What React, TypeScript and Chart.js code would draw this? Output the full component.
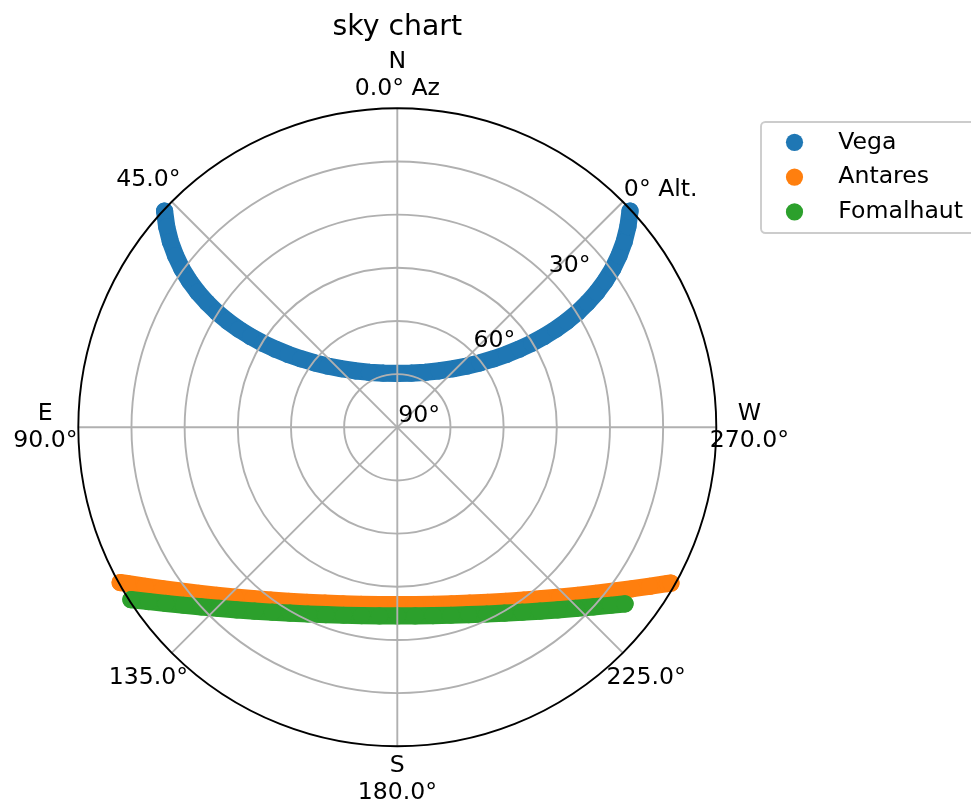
import React, { useEffect, useRef } from "react";
import { Chart, registerables } from "chart.js";

Chart.register(...registerables);

const TITLE = "sky chart";
const starNames = ["Vega", "Antares", "Fomalhaut"];
const starColors = ["#1f77b4", "#ff7f0e", "#2ca02c"];

// azimuth (deg, N=0, E=90) and altitude (deg) read along each track
const vegaAz = [47.10, 48.99, 50.71, 52.25, 53.64, 54.85, 55.90, 56.77, 57.47, 57.96, 58.24, 58.26, 57.98, 57.34, 56.24, 54.54, 52.07, 48.52, 43.52, 36.50, 26.91, 14.48, 0.00, 345.52, 333.09, 323.50, 316.48, 311.48, 307.93, 305.46, 303.76, 302.66, 302.02, 301.74, 301.76, 302.04, 302.53, 303.23, 304.10, 305.15, 306.36, 307.75, 309.29, 311.01, 312.90];
const vegaAlt = [0.37, 3.78, 7.28, 10.87, 14.52, 18.24, 22.01, 25.83, 29.67, 33.55, 37.44, 41.34, 45.23, 49.10, 52.95, 56.71, 60.39, 63.92, 67.22, 70.18, 72.60, 74.23, 74.80, 74.23, 72.60, 70.18, 67.22, 63.92, 60.39, 56.71, 52.95, 49.10, 45.23, 41.34, 37.44, 33.55, 29.67, 25.83, 22.01, 18.24, 14.52, 10.87, 7.28, 3.78, 0.37];

const antaresAz = [119.25, 120.06, 122.23, 124.58, 127.13, 129.91, 132.94, 136.25, 139.86, 143.79, 148.06, 152.69, 157.65, 162.92, 168.45, 174.17, 180.00, 185.83, 191.55, 197.08, 202.35, 207.31, 211.94, 216.21, 220.14, 223.75, 227.06, 230.09, 232.87, 235.42, 237.77, 239.94, 240.35];
const antaresAlt = [0.37, 1.96, 5.88, 9.71, 13.42, 17.01, 20.44, 23.71, 26.77, 29.60, 32.17, 34.44, 36.36, 37.91, 39.04, 39.74, 39.97, 39.74, 39.04, 37.91, 36.36, 34.44, 32.17, 29.60, 26.77, 23.71, 20.44, 17.01, 13.42, 9.71, 5.88, 1.96, 1.16];

const fomalhautAz = [122.89, 125.00, 127.29, 129.79, 132.49, 135.46, 138.67, 142.17, 145.96, 150.05, 154.44, 159.13, 164.08, 169.26, 174.59, 180.00, 185.41, 190.74, 195.92, 200.87, 205.56, 209.95, 214.04, 217.83, 221.33, 224.54, 227.51, 230.21, 232.22];
const fomalhautAlt = [0.48, 4.28, 7.98, 11.56, 15.01, 18.31, 21.43, 24.35, 27.04, 29.47, 31.61, 33.42, 34.86, 35.92, 36.56, 36.78, 36.56, 35.92, 34.86, 33.42, 31.61, 29.47, 27.04, 24.35, 21.43, 18.31, 15.01, 11.56, 8.70];

// grid / ticks
const ringAlt = [75, 60, 45, 30, 15];
const spokeAz = [0, 45, 90, 135, 180, 225, 270, 315];
const rTickAlt = [0, 30, 60, 90];
const rTickLabels = ["0° Alt.", "30°", "60°", "90°"];
const rLabelAz = 315;
const thetaTickAz = [0, 45, 90, 135, 180, 225, 270];
const thetaTickLabels = [["N", "0.0° Az"], ["45.0°"], ["E", "90.0°"], ["135.0°"], ["S", "180.0°"], ["225.0°"], ["W", "270.0°"]];

const D2R = Math.PI / 180;
const toXY = (az: number[], alt: number[]) =>
  az.map((a, i) => ({ x: -(90 - alt[i]) * Math.sin(a * D2R), y: (90 - alt[i]) * Math.cos(a * D2R) }));

const FONT = "'DejaVu Sans', 'Liberation Sans', sans-serif";
const TICK_PX = 23.6;
const TITLE_PX = 28.3;
const MARK_R = 8.6;

const skyPlugin = {
  id: "skyPolar",
  beforeDraw(chart: any) {
    const ctx = chart.ctx;
    ctx.save();
    ctx.fillStyle = "#ffffff";
    ctx.fillRect(0, 0, chart.width, chart.height);
    ctx.restore();
  },
  afterDatasetsDraw(chart: any) {
    const ctx = chart.ctx;
    const xs = chart.scales.x;
    const ys = chart.scales.y;
    const cx = xs.getPixelForValue(0);
    const cy = ys.getPixelForValue(0);
    const rad = (alt: number) => xs.getPixelForValue(90 - alt) - cx;
    const R = rad(0);
    const dir = (az: number) => [-Math.sin(az * D2R), -Math.cos(az * D2R)];

    ctx.save();
    ctx.strokeStyle = "#b0b0b0";
    ctx.lineWidth = 1.9;
    ringAlt.forEach((a) => {
      ctx.beginPath();
      ctx.arc(cx, cy, rad(a), 0, Math.PI * 2);
      ctx.stroke();
    });
    spokeAz.forEach((az) => {
      const [dx, dy] = dir(az);
      ctx.beginPath();
      ctx.moveTo(cx, cy);
      ctx.lineTo(cx + dx * R, cy + dy * R);
      ctx.stroke();
    });
    ctx.strokeStyle = "#000000";
    ctx.beginPath();
    ctx.arc(cx, cy, R, 0, Math.PI * 2);
    ctx.stroke();

    ctx.fillStyle = "#000000";
    ctx.font = `${TICK_PX}px ${FONT}`;
    ctx.textAlign = "left";
    ctx.textBaseline = "alphabetic";
    const [rdx, rdy] = dir(rLabelAz);
    rTickAlt.forEach((a, i) => {
      const r = rad(a);
      ctx.fillText(rTickLabels[i], cx + rdx * r + 1, cy + rdy * r - 5.3);
    });

    ctx.textAlign = "center";
    thetaTickAz.forEach((az, i) => {
      const [dx, dy] = dir(az);
      const lx = cx + dx * (R + 33);
      const ly = cy + dy * (R + 33);
      const lines = thetaTickLabels[i];
      if (lines.length === 1) {
        ctx.fillText(lines[0], lx, ly + 7.8);
      } else {
        ctx.fillText(lines[0], lx, ly - 7);
        ctx.fillText(lines[1], lx, ly + 19.6);
      }
    });

    ctx.font = `${TITLE_PX}px ${FONT}`;
    ctx.fillText(TITLE, cx, 35);

    // legend
    const lx0 = 761, ly0 = 122, lw = 216, lh = 111;
    ctx.beginPath();
    ctx.roundRect(lx0, ly0, lw, lh, 4.4);
    ctx.fillStyle = "rgba(255,255,255,0.8)";
    ctx.fill();
    ctx.strokeStyle = "#cccccc";
    ctx.lineWidth = 1.9;
    ctx.stroke();
    ctx.font = `${TICK_PX}px ${FONT}`;
    ctx.textAlign = "left";
    starNames.forEach((name, i) => {
      const my = 142.3 + i * 34.8;
      ctx.beginPath();
      ctx.arc(794.5, my, MARK_R, 0, Math.PI * 2);
      ctx.fillStyle = starColors[i];
      ctx.fill();
      ctx.fillStyle = "#000000";
      ctx.fillText(name, 838.3, my + 6.3);
    });
    ctx.restore();
  },
};

export default function App() {
  const ref = useRef<HTMLCanvasElement | null>(null);
  useEffect(() => {
    if (!ref.current) return;
    const tracks = [
      toXY(vegaAz, vegaAlt),
      toXY(antaresAz, antaresAlt),
      toXY(fomalhautAz, fomalhautAlt),
    ];
    const chart = new Chart(ref.current, {
      type: "scatter",
      data: {
        datasets: tracks.map((pts, i) => ({
          label: starNames[i],
          data: pts,
          showLine: true,
          borderColor: starColors[i],
          backgroundColor: starColors[i],
          borderWidth: MARK_R * 2,
          borderCapStyle: "round",
          borderJoinStyle: "round",
          tension: 0,
          pointRadius: MARK_R,
          pointBorderWidth: 0,
          pointHoverRadius: MARK_R,
          order: 2 - i,
          clip: false,
        })) as any,
      },
      options: {
        responsive: false,
        animation: false,
        devicePixelRatio: 1,
        events: [],
        layout: { padding: { left: 78.3, top: 108.3, right: 254.7, bottom: 57.7 } },
        scales: {
          x: { type: "linear", min: -90, max: 90, display: false },
          y: { type: "linear", min: -90, max: 90, display: false },
        },
        plugins: {
          legend: { display: false },
          title: { display: false },
          tooltip: { enabled: false },
        },
      },
      plugins: [skyPlugin],
    });
    return () => chart.destroy();
  }, []);
  return (
    <div style={{ position: "absolute", left: 0, top: 0, width: 971, height: 804 }}>
      <canvas ref={ref} width={971} height={804} style={{ width: 971, height: 804, display: "block" }} />
    </div>
  );
}
